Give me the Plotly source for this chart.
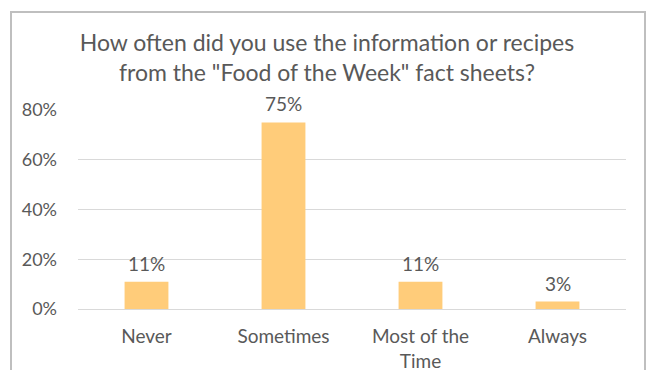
import plotly.graph_objects as go

# Survey responses
categories = ["Never", "Sometimes", "Most of the<br>Time", "Always"]
shares = [0.11, 0.75, 0.11, 0.03]
tick_values = [0, 0.2, 0.4, 0.6, 0.8]
tick_labels = ["0%", "20%", "40%", "60%", "80%"]

title_text = ('How often did you use the information or recipes<br>'
              'from the "Food of the Week" fact sheets?')

FONT = "Lato, Carlito, 'Open Sans', sans-serif"
TEXT_COLOR = "#595959"
BAR_COLOR = "#FFCC7A"
GRID_COLOR = "#D9D9D9"

W, H = 647, 370
L, R, T, B = 78, 21, 110, 61
plot_w = W - L - R
plot_h = H - T - B

fig = go.Figure()
fig.add_trace(go.Bar(
    x=categories,
    y=shares,
    marker=dict(color=BAR_COLOR, line=dict(width=0)),
    width=0.32,
    hoverinfo="skip",
))

# Value labels above each bar
for cat, val in zip(categories, shares):
    fig.add_annotation(
        x=cat, y=val, xref="x", yref="y",
        text=f"{round(val * 100)}%",
        showarrow=False, yanchor="bottom", yshift=5,
        font=dict(family=FONT, size=19, color=TEXT_COLOR),
    )

# Outer chart frame (open at the bottom edge of the view)
def px_to_paper_x(px):
    return (px - L) / plot_w

def px_to_paper_y(py):
    return (H - B - py) / plot_h

fig.add_shape(
    type="rect", xref="paper", yref="paper",
    x0=px_to_paper_x(11), x1=px_to_paper_x(645),
    y0=px_to_paper_y(400), y1=px_to_paper_y(12),
    line=dict(color="#BFBFBF", width=2), fillcolor="rgba(0,0,0,0)",
    layer="below",
)

fig.update_layout(
    width=W, height=H,
    margin=dict(l=L, r=R, t=T, b=B, pad=0, autoexpand=False),
    paper_bgcolor="white", plot_bgcolor="white",
    showlegend=False,
    title=dict(
        text=title_text, xref="container", yref="container",
        x=327 / W, xanchor="center", y=1 - 51 / H, yanchor="middle",
        font=dict(family=FONT, size=23, color=TEXT_COLOR),
    ),
    font=dict(family=FONT, color=TEXT_COLOR),
    bargap=0.68,
)
fig.update_xaxes(
    showgrid=False, showline=False, zeroline=False, ticks="",
    tickfont=dict(family=FONT, size=19, color=TEXT_COLOR),
    ticklabelstandoff=14, automargin=False,
)
fig.update_yaxes(
    range=[0, 0.8], tickvals=tick_values, ticktext=tick_labels,
    showgrid=True, gridcolor=GRID_COLOR, gridwidth=1,
    zeroline=True, zerolinecolor=GRID_COLOR, zerolinewidth=1,
    showline=False, ticks="",
    tickfont=dict(family=FONT, size=18, color=TEXT_COLOR),
    ticklabelstandoff=20, automargin=False,
)

fig.write_html("out.html")
